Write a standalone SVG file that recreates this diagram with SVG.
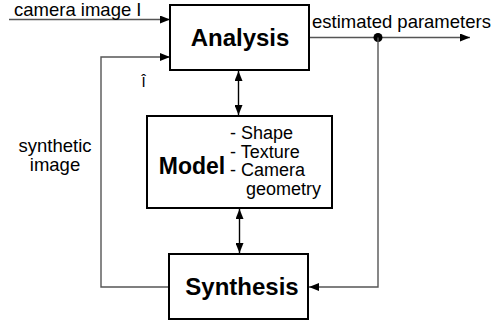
<svg xmlns="http://www.w3.org/2000/svg" width="502" height="323" viewBox="0 0 502 323">
  <style>
    .box { fill: #ffffff; stroke: #000000; stroke-width: 2; }
    .title { font-family: "Liberation Sans", Arial, sans-serif; font-weight: bold; font-size: 24px; fill: #000000; text-anchor: middle; }
    .label { font-family: "Liberation Sans", Arial, sans-serif; font-size: 18.5px; fill: #000000; }
    .item { font-family: "Liberation Sans", Arial, sans-serif; font-size: 18px; fill: #000000; }
    .wire { fill: none; stroke: #555555; stroke-width: 1.4; }
    .link { fill: none; stroke: #000000; stroke-width: 1.4; }
  </style>
  <defs>
    <marker id="head" viewBox="0 0 10 8" refX="10" refY="4" markerWidth="10" markerHeight="8" markerUnits="userSpaceOnUse" orient="auto-start-reverse">
      <path d="M0,0 L10,4 L0,8 Z" fill="#000000"/>
    </marker>
  </defs>

  <rect width="502" height="323" fill="#ffffff"/>

  <!-- connectors -->
  <g id="connectors">
    <!-- camera image input -->
    <line class="wire" x1="9" y1="19.5" x2="170" y2="19.5" marker-end="url(#head)"/>
    <!-- synthetic image feedback -->
    <polyline class="wire" points="169,287 101,287 101,57 170,57" marker-end="url(#head)"/>
    <!-- estimated parameters output -->
    <line class="wire" x1="309" y1="37.5" x2="470" y2="37.5" marker-end="url(#head)"/>
    <circle cx="378" cy="37.5" r="4.5" fill="#000000"/>
    <polyline class="wire" points="378,37.5 378,287 309,287" marker-end="url(#head)"/>
    <!-- model links -->
    <line class="link" x1="238.5" y1="71" x2="238.5" y2="115" marker-start="url(#head)" marker-end="url(#head)"/>
    <line class="link" x1="239.5" y1="209" x2="239.5" y2="253" marker-start="url(#head)" marker-end="url(#head)"/>
  </g>

  <!-- free labels -->
  <text class="label" x="14" y="16">camera image I</text>
  <text class="label" x="312" y="28">estimated parameters</text>
  <text class="label" x="55" y="152" text-anchor="middle">synthetic</text>
  <text class="label" x="55" y="171" text-anchor="middle">image</text>
  <text x="143.5" y="87" font-family="'Liberation Sans', Arial, sans-serif" font-size="15" text-anchor="middle">Î</text>

  <g id="analysis">
    <rect class="box" x="170" y="5" width="139" height="65"/>
    <text class="title" x="240" y="46">Analysis</text>
  </g>

  <g id="model">
    <rect class="box" x="147" y="116" width="185" height="92"/>
    <text class="title" x="192" y="174" style="font-size:23px">Model</text>
    <text class="item" x="230" y="139">- Shape</text>
    <text class="item" x="230" y="157.5">- Texture</text>
    <text class="item" x="230" y="176">- Camera</text>
    <text class="item" x="246" y="194.5">geometry</text>
  </g>

  <g id="synthesis">
    <rect class="box" x="169" y="254" width="139" height="65"/>
    <text class="title" x="242" y="295">Synthesis</text>
  </g>
</svg>
